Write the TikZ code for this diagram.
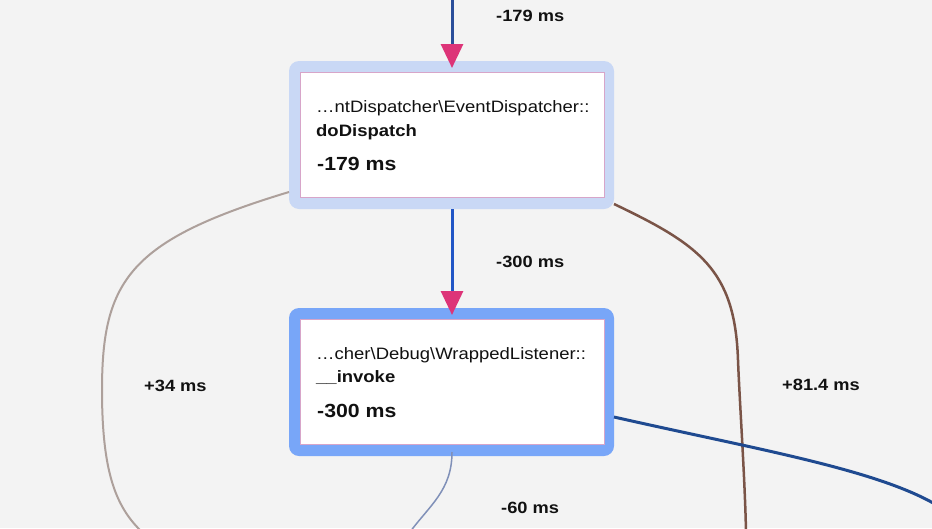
\documentclass[tikz,border=0pt]{standalone}
\usepackage{fontspec}
\setmainfont{Liberation Sans}
\newfontfamily\lab{Liberation Sans}[FakeStretch=1.12]
\usetikzlibrary{arrows.meta}
\definecolor{bgc}{HTML}{F3F3F3}
\definecolor{outerA}{HTML}{C9D8F5}
\definecolor{outerB}{HTML}{78A6F8}
\definecolor{innerbd}{HTML}{D7A5C9}
\definecolor{tippink}{HTML}{DD3478}
\definecolor{edgedark}{HTML}{2A4E9A}
\definecolor{edgemid}{HTML}{2156C6}
\definecolor{edgegrey}{HTML}{ADA09B}
\definecolor{edgebrown}{HTML}{7A5447}
\definecolor{edgenavy}{HTML}{1F4A90}
\definecolor{edgeslate}{HTML}{8090B8}
\definecolor{txt}{HTML}{111111}
\tikzset{
  outerbox/.style={rectangle, rounded corners=10pt, minimum width=325pt, minimum height=148pt, inner sep=0pt, outer sep=0pt},
  innerbox/.style={rectangle, fill=white, draw=innerbd, line width=1pt, minimum width=304pt, minimum height=125pt, inner sep=0pt},
  fname/.style={anchor=base west, inner sep=0pt, text=txt, font=\lab\fontsize{16.5}{18}\selectfont},
  fbold/.style={anchor=base west, inner sep=0pt, text=txt, font=\lab\bfseries\fontsize{16.5}{18}\selectfont},
  ftime/.style={anchor=base west, inner sep=0pt, text=txt, font=\lab\bfseries\fontsize{19}{22}\selectfont},
  elabel/.style={anchor=base west, inner sep=0pt, text=txt, font=\lab\bfseries\fontsize{16.3}{18}\selectfont},
  pinktip/.style={-{Triangle[width=22pt,length=24pt,color=tippink]}, shorten >=-7pt},
}
\begin{document}
\begin{tikzpicture}[x=1pt,y=-1pt]
\useasboundingbox (0,0) rectangle (932,528);
\fill[bgc] (0,0) rectangle (932,528);
\clip (0,0) rectangle (932,528);

% nodes
\node[outerbox, fill=outerA] (n1out) at (451.5,135) {};
\node[innerbox] (n1in) at (452,134.5) {};
\node[fname] (n1a) at (316,112) {…ntDispatcher\textbackslash EventDispatcher::};
\node[fbold] (n1b) at (316,136) {doDispatch};
\node[ftime] (n1c) at (317,170) {-179 ms};

\node[outerbox, fill=outerB] (n2out) at (451.5,382) {};
\node[innerbox] (n2in) at (452,381.5) {};
\node[fname] (n2a) at (316,359) {…cher\textbackslash Debug\textbackslash WrappedListener::};
\node[fbold] (n2b) at (316,382) {\_\_invoke};
\node[ftime] (n2c) at (317,417) {-300 ms};

% free ends
\coordinate (topin) at (452,-2);
\coordinate (leftout) at (140,530);
\coordinate (brownout) at (746,532);
\coordinate (navyout) at (940,507);
\coordinate (slateout) at (410,532);

% edges
\draw[edgedark, line width=3pt, pinktip] (topin) -- (topin |- n1out.north);
\draw[edgemid, line width=3pt, pinktip] ([xshift=0.5pt]n1out.south) -- ([xshift=0.5pt]n2out.north);
\draw[edgegrey, line width=2pt] ([yshift=17pt]n1out.south west) .. controls (130,240) and (102,280) .. (102,390) .. controls (102,470) and (115,505) .. (leftout);
\draw[edgebrown, line width=2.5pt] ([yshift=5pt]n1out.south east) .. controls (700,245) and (735,270) .. (738,360) .. controls (739.5,400) and (745,480) .. (brownout);
\draw[edgenavy, line width=3pt] ([yshift=-35pt]n2out.east) .. controls (760,450) and (880,470) .. (navyout);
\draw[edgeslate, line width=1.5pt] ([xshift=0.5pt,yshift=4pt]n2out.south) .. controls (452,490) and (430,505) .. (slateout);

% labels
\node[elabel] (l1) at (496,21) {-179 ms};
\node[elabel] (l2) at (496,267) {-300 ms};
\node[elabel] (l3) at (144,391) {+34 ms};
\node[elabel] (l4) at (782,390) {+81.4 ms};
\node[elabel] (l5) at (501,513) {-60 ms};
\end{tikzpicture}
\end{document}
